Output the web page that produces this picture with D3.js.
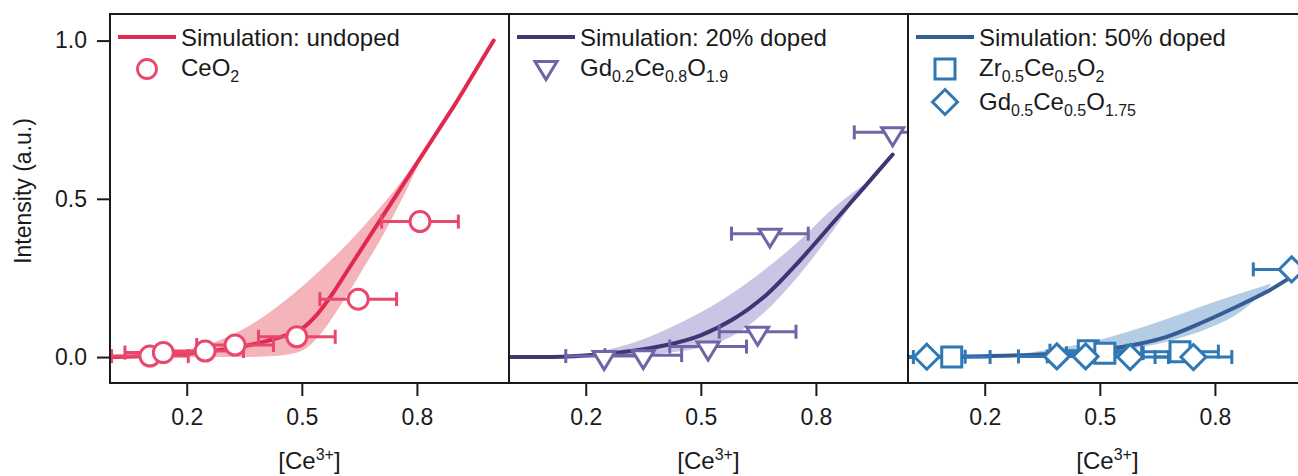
<!DOCTYPE html>
<html><head><meta charset="utf-8">
<script src="https://cdn.jsdelivr.net/npm/d3@7"></script>
<style>html,body{margin:0;padding:0;background:#fff;} svg{display:block;font-family:"Liberation Sans",Arial,Helvetica,sans-serif;}</style>
</head><body><svg id="c" width="1298" height="476"></svg>
<script>
// ---------- data ----------
const xTicks = [0.2, 0.5, 0.8];
const yTicks = [0.0, 0.5, 1.0];

// Panel 1: undoped
const sim1X = [0.005, 0.1, 0.15, 0.2, 0.25, 0.3, 0.35, 0.4, 0.45, 0.5, 0.54, 0.58, 0.62, 0.66, 0.7, 0.74, 0.78, 0.82, 0.86, 0.9, 0.95, 1.0];
const sim1Y = [0, 0.003, 0.006, 0.01, 0.017, 0.025, 0.035, 0.048, 0.065, 0.09, 0.135, 0.2, 0.275, 0.35, 0.425, 0.5, 0.575, 0.65, 0.725, 0.8, 0.9, 1.0];
const band1UpX = [0.12, 0.2, 0.25, 0.3, 0.35, 0.4, 0.45, 0.5, 0.55, 0.6, 0.65, 0.7, 0.75, 0.79, 0.815];
const band1UpY = [0, 0.022, 0.038, 0.06, 0.09, 0.127, 0.172, 0.222, 0.277, 0.335, 0.398, 0.467, 0.54, 0.605, 0.645];
const band1LoX = [0.12, 0.3, 0.4, 0.45, 0.5, 0.54, 0.58, 0.62, 0.66, 0.7, 0.74, 0.78, 0.815];
const band1LoY = [0, 0, 0.002, 0.006, 0.02, 0.06, 0.125, 0.2, 0.28, 0.36, 0.45, 0.545, 0.64];
const ceo2X = [0.104, 0.139, 0.248, 0.326, 0.487, 0.647, 0.808];
const ceo2Y = [0.003, 0.014, 0.019, 0.038, 0.064, 0.183, 0.428];
const ceo2Err = [0.1, 0.1, 0.1, 0.1, 0.1, 0.1, 0.1];

// Panel 2: 20% doped
const sim2X = [0, 0.15, 0.25, 0.324, 0.411, 0.498, 0.585, 0.672, 0.758, 0.845, 0.932, 1.0];
const sim2Y = [0, 0.002, 0.01, 0.02, 0.038, 0.068, 0.12, 0.198, 0.305, 0.425, 0.545, 0.64];
const band2UpX = [0.15, 0.237, 0.324, 0.411, 0.498, 0.58, 0.66, 0.75, 0.845, 0.925];
const band2UpY = [0, 0.018, 0.045, 0.088, 0.14, 0.2, 0.27, 0.36, 0.47, 0.545];
const band2LoX = [0.15, 0.3, 0.4, 0.5, 0.58, 0.66, 0.75, 0.845, 0.925];
const band2LoY = [0, 0.003, 0.012, 0.03, 0.065, 0.135, 0.25, 0.4, 0.54];
const gdc20X = [0.248, 0.35, 0.519, 0.648, 0.68, 1.0];
const gdc20Y = [0.003, 0.006, 0.033, 0.08, 0.39, 0.71];
const gdc20Err = [0.1, 0.1, 0.1, 0.1, 0.1, 0.1];

// Panel 3: 50% doped
const sim3X = [0, 0.214, 0.414, 0.5, 0.587, 0.674, 0.761, 0.848, 0.935, 1.0];
const sim3Y = [0, 0.003, 0.012, 0.022, 0.038, 0.064, 0.106, 0.154, 0.206, 0.254];
const band3UpX = [0.2, 0.35, 0.5, 0.65, 0.8, 0.945];
const band3UpY = [0, 0.02, 0.055, 0.11, 0.175, 0.232];
const band3LoX = [0.2, 0.5, 0.674, 0.848, 0.945];
const band3LoY = [0, 0.014, 0.048, 0.128, 0.226];
const zrcX = [0.114, 0.47, 0.513, 0.709];
const zrcY = [0.0, 0.02, 0.012, 0.017];
const zrcErr = [0.1, 0.1, 0.1, 0.1];
const gdc50X = [0.049, 0.388, 0.463, 0.579, 0.744, 1.0];
const gdc50Y = [0.001, 0.002, 0.002, 0.0, 0.0, 0.277];
const gdc50Err = [0.1, 0.1, 0.1, 0.1, 0.1, 0.1];

const legend1 = [[{t:"Simulation: undoped"}], [{t:"CeO"},{t:"2",s:1}]];
const legend2 = [[{t:"Simulation: 20% doped"}], [{t:"Gd"},{t:"0.2",s:1},{t:"Ce"},{t:"0.8",s:1},{t:"O"},{t:"1.9",s:1}]];
const legend3 = [[{t:"Simulation: 50% doped"}], [{t:"Zr"},{t:"0.5",s:1},{t:"Ce"},{t:"0.5",s:1},{t:"O"},{t:"2",s:1}],
                 [{t:"Gd"},{t:"0.5",s:1},{t:"Ce"},{t:"0.5",s:1},{t:"O"},{t:"1.75",s:1}]];

// ---------- drawing ----------
const svg = d3.select("#c");
const PL = 110, PW = 399, PT = 14, PB = 383;
const y = d3.scaleLinear().domain([-0.082, 1.084]).range([PB, PT]);
const zip = (a, b) => a.map((v, i) => [v, b[i]]);

const shapes = {
  circle: "M10,0A10,10 0 1,1 -10,0A10,10 0 1,1 10,0Z",
  tri: "M-11,-4.5L11,-4.5L0,13.5Z",
  square: "M-10,-10L10,-10L10,10L-10,10Z",
  diamond: "M0,-12.5L12.5,0L0,12.5L-12.5,0Z"
};

const panels = [
  {sim:[sim1X,sim1Y], up:[band1UpX,band1UpY], lo:[band1LoX,band1LoY], line:"#e1294f", band:"#f4b4ba", mk:"#e8486b",
   series:[{x:ceo2X,y:ceo2Y,e:ceo2Err,shape:"circle"}], legend:legend1},
  {sim:[sim2X,sim2Y], up:[band2UpX,band2UpY], lo:[band2LoX,band2LoY], line:"#3f3573", band:"#cac5e4", mk:"#7064a8",
   series:[{x:gdc20X,y:gdc20Y,e:gdc20Err,shape:"tri"}], legend:legend2},
  {sim:[sim3X,sim3Y], up:[band3UpX,band3UpY], lo:[band3LoX,band3LoY], line:"#355d95", band:"#b5cde4", mk:"#2f78b3",
   series:[{x:zrcX,y:zrcY,e:zrcErr,shape:"square"},{x:gdc50X,y:gdc50Y,e:gdc50Err,shape:"diamond"}], legend:legend3}
];

const defs = svg.append("defs");

panels.forEach((p, i) => {
  const x0 = PL + i * PW;
  const x = d3.scaleLinear().domain([0, 1.04]).range([x0, x0 + PW]);
  defs.append("clipPath").attr("id", "clip" + i).append("rect")
    .attr("x", x0).attr("y", PT).attr("width", PW).attr("height", PB - PT);
  const g = svg.append("g").attr("clip-path", `url(#clip${i})`);

  const ln = d3.line().x(d => x(d[0])).y(d => y(d[1])).curve(d3.curveCatmullRom.alpha(0.5));
  const upPts = zip(p.up[0], p.up[1]);
  const loPts = zip(p.lo[0], p.lo[1]).reverse();
  const bandPath = ln(upPts) + "L" + ln(loPts).slice(1) + "Z";
  g.append("path").attr("d", bandPath).attr("fill", p.band).attr("stroke", "none");

  g.append("path").attr("d", ln(zip(p.sim[0], p.sim[1])))
    .attr("fill", "none").attr("stroke", p.line).attr("stroke-width", 4).attr("stroke-linecap", "round");

  p.series.forEach(s => {
    const pts = s.x.map((v, k) => ({x: v, y: s.y[k], e: s.e[k]}));
    const eb = g.append("g").attr("stroke", p.mk).attr("stroke-width", 3).attr("fill", "none");
    pts.forEach(d => {
      const yy = y(d.y);
      eb.append("line").attr("x1", x(d.x - d.e)).attr("x2", x(d.x + d.e)).attr("y1", yy).attr("y2", yy);
      [d.x - d.e, d.x + d.e].forEach(c => eb.append("line")
        .attr("x1", x(c)).attr("x2", x(c)).attr("y1", yy - 7).attr("y2", yy + 7));
    });
  });
  p.series.forEach(s => {
    g.append("g").selectAll("path").data(s.x.map((v, k) => [v, s.y[k]])).join("path")
      .attr("d", shapes[s.shape])
      .attr("transform", d => `translate(${x(d[0])},${y(d[1])})`)
      .attr("fill", "#fff").attr("stroke", p.mk).attr("stroke-width", 3).attr("stroke-linejoin", "miter");
  });

  // legend
  const lg = svg.append("g");
  const baselines = [45.5, 76, 110];
  const markerY = [37, 69, 102];
  p.legend.forEach((row, r) => {
    if (r === 0) {
      lg.append("line").attr("x1", x0 + 8).attr("x2", x0 + 66).attr("y1", markerY[0]).attr("y2", markerY[0])
        .attr("stroke", p.line).attr("stroke-width", 4);
    } else {
      const s = p.series[r - 1];
      const sc = s.shape === "circle" ? 0.95 : 1;
      lg.append("path").attr("d", shapes[s.shape])
        .attr("transform", `translate(${x0 + 37},${markerY[r] - (s.shape === "tri" ? 3 : 0)}) scale(${sc})`)
        .attr("fill", "#fff").attr("stroke", p.mk).attr("stroke-width", 3);
    }
    const t = lg.append("text").attr("x", x0 + 71).attr("y", baselines[r])
      .attr("font-size", 24).attr("fill", "#1a1a1a");
    row.forEach((seg, k) => {
      const ts = t.append("tspan").text(seg.t);
      if (seg.s) ts.attr("font-size", 16).attr("dy", 6);
      else ts.attr("dy", (k > 0 && row[k - 1].s) ? -6 : 0);
    });
  });

  // x axis
  const ax = svg.append("g").attr("transform", `translate(0,${PB})`)
    .call(d3.axisBottom(x).tickValues(xTicks).tickSize(13).tickPadding(13).tickFormat(d3.format(".1f")));
  ax.select(".domain").remove();
  ax.selectAll("line").attr("stroke", "#1a1a1a").attr("stroke-width", 2);
  ax.selectAll("text").attr("font-size", 23).attr("fill", "#1a1a1a")
    .attr("font-family", "'Liberation Sans',Arial,sans-serif");

  // x title
  const xt = svg.append("text").attr("x", x0 + PW / 2).attr("y", 469).attr("text-anchor", "middle")
    .attr("font-size", 24).attr("fill", "#1a1a1a");
  xt.append("tspan").text("[Ce");
  xt.append("tspan").text("3+").attr("font-size", 16).attr("dy", -9);
  xt.append("tspan").text("]").attr("dy", 9);
});

// y axis
const ay = svg.append("g").attr("transform", `translate(${PL},0)`)
  .call(d3.axisLeft(y).tickValues(yTicks).tickSize(13).tickPadding(10).tickFormat(d3.format(".1f")));
ay.select(".domain").remove();
ay.selectAll("line").attr("stroke", "#1a1a1a").attr("stroke-width", 2);
ay.selectAll("text").attr("font-size", 23).attr("fill", "#1a1a1a")
  .attr("font-family", "'Liberation Sans',Arial,sans-serif");

svg.append("text").attr("transform", `translate(31,191) rotate(-90)`)
  .attr("text-anchor", "middle").attr("font-size", 23).attr("fill", "#1a1a1a").text("Intensity (a.u.)");

// frame
const fr = svg.append("g").attr("fill", "none").attr("stroke", "#1a1a1a").attr("stroke-width", 2);
fr.append("rect").attr("x", PL).attr("y", PT).attr("width", PW * 3).attr("height", PB - PT);
[1, 2].forEach(k => fr.append("line").attr("x1", PL + k * PW).attr("x2", PL + k * PW).attr("y1", PT).attr("y2", PB));
</script></body></html>
